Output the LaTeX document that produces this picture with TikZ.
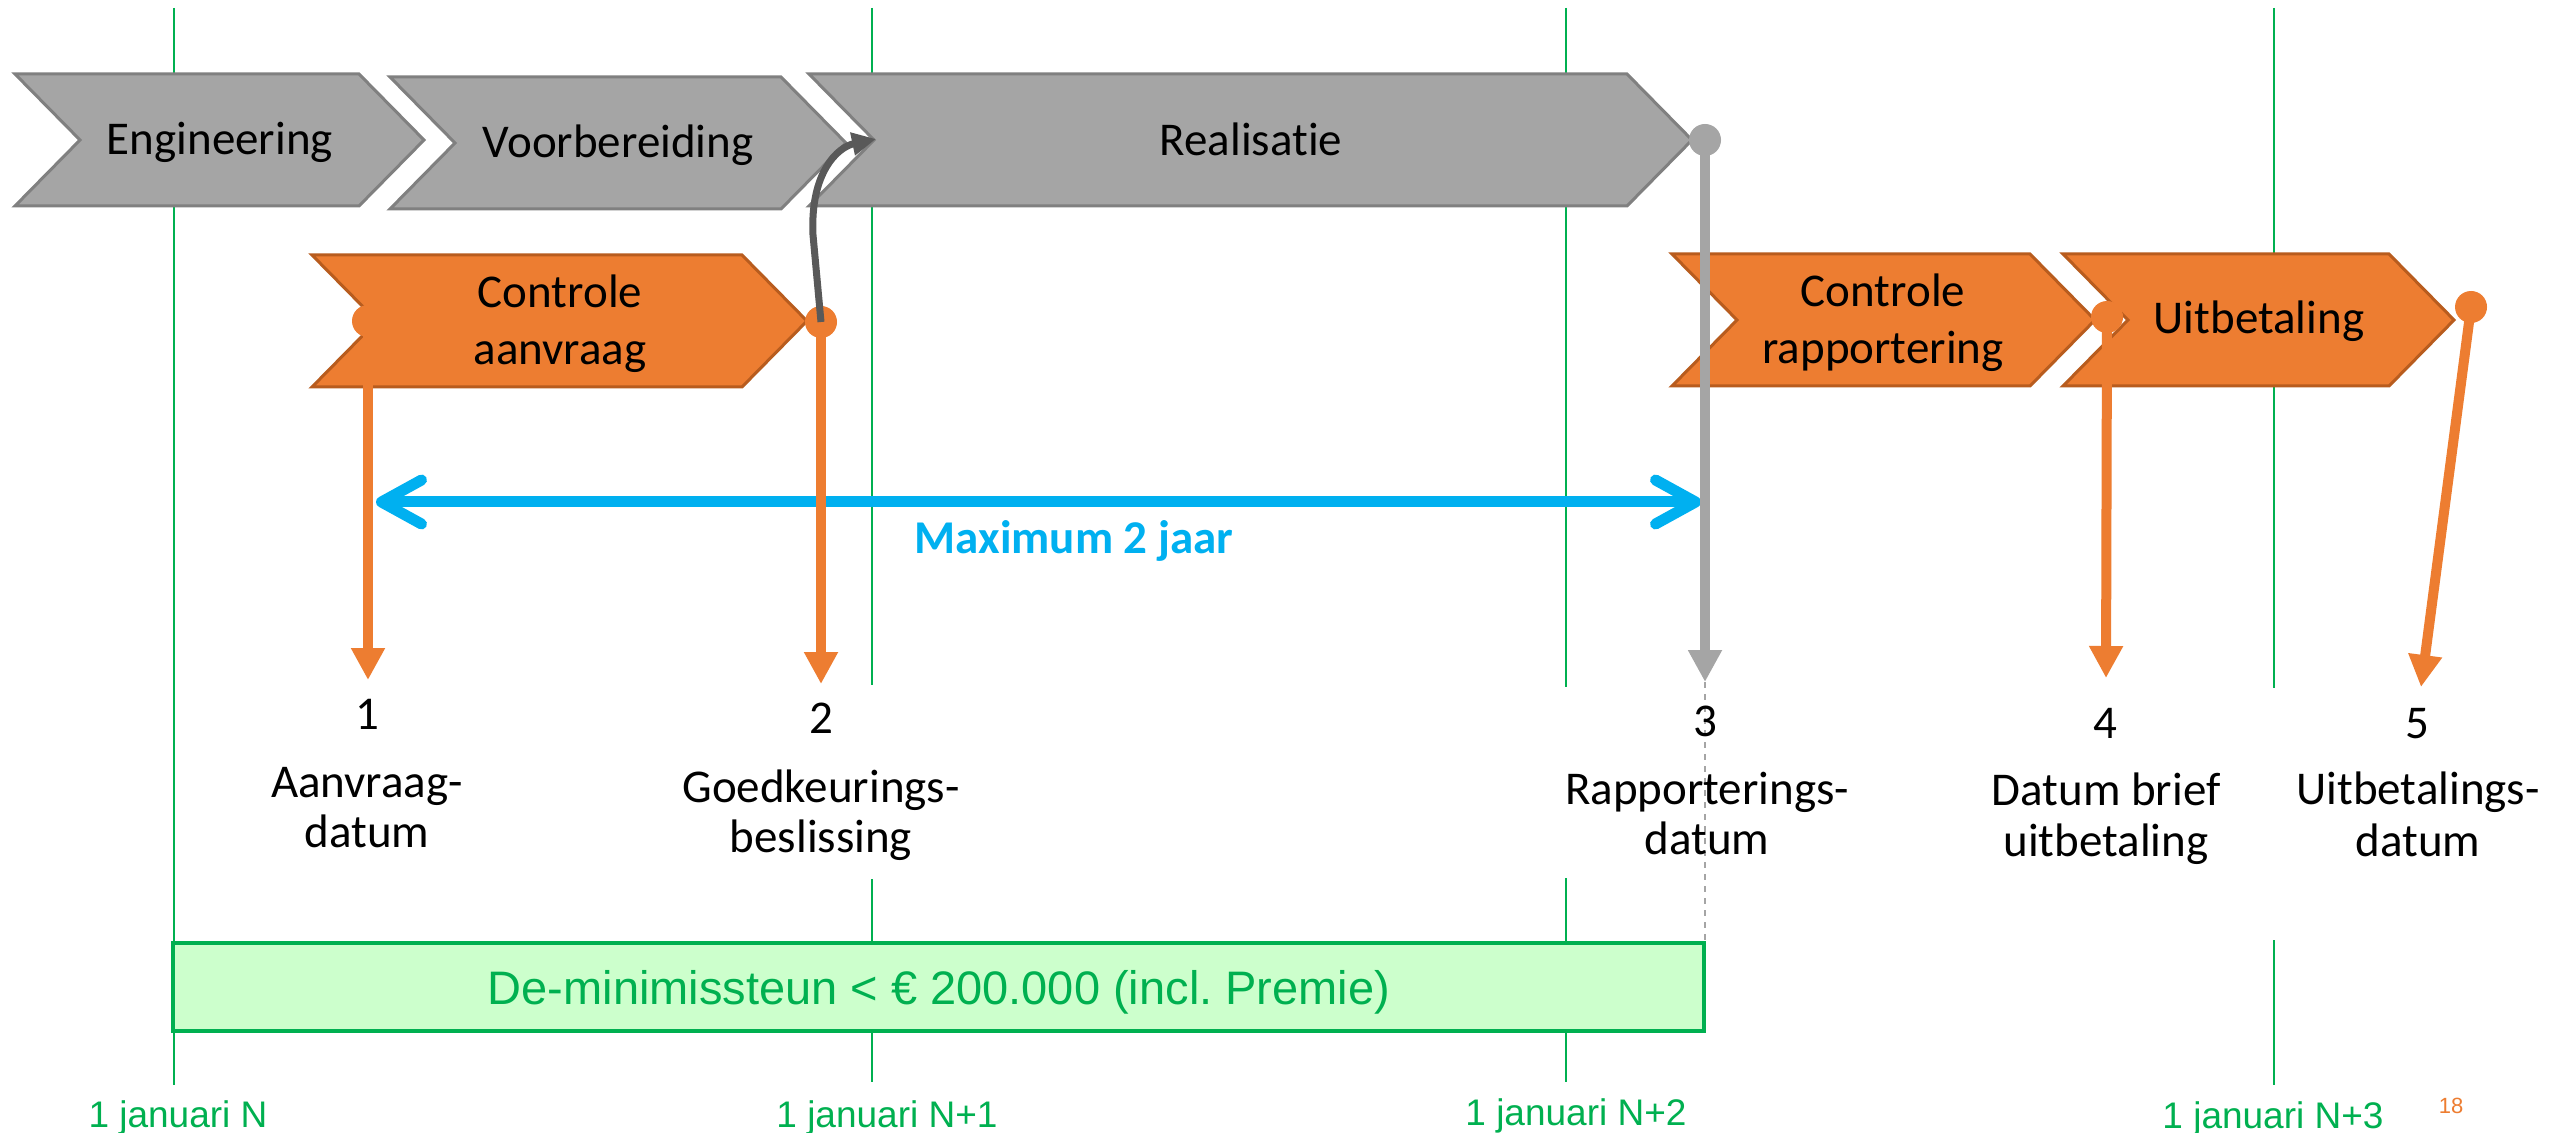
\documentclass[tikz,border=0pt]{standalone}
\usepackage{fontspec}
\setmainfont{Carlito}[Ligatures={NoCommon,NoRare,NoContextual}]
\newfontfamily\arialfont{Liberation Sans}
\usetikzlibrary{arrows.meta}
\definecolor{cOrange}{HTML}{ED7D31}
\definecolor{cOrangeDk}{HTML}{B85C1E}
\definecolor{cGray}{HTML}{A5A5A5}
\definecolor{cGrayDk}{HTML}{808080}
\definecolor{cDark}{HTML}{595959}
\definecolor{cBlue}{HTML}{00B0F0}
\definecolor{cGreen}{HTML}{00B050}
\definecolor{cBoxFill}{HTML}{CCFFCC}
\newcommand\drawchev[5]{\draw[#1] (#2,#4) -- (#3,#4) -- ({#3+65},{(#4+#5)/2}) -- (#3,#5) -- (#2,#5) -- ({#2+65},{(#4+#5)/2}) -- cycle;}
\frenchspacing
\begin{document}
\begin{tikzpicture}[x=0.5pt,y=-0.5pt,
  chevgray/.style={fill=cGray,draw=cGrayDk,line width=1.5pt},
  chevorange/.style={fill=cOrange,draw=cOrangeDk,line width=1.5pt},
  gridline/.style={draw=cGreen,line width=0.9pt},
  txt/.style={font=\fontsize{23.5pt}{28pt}\selectfont,anchor=base,inner sep=0pt},
  maxtxt/.style={txt,font=\fontsize{23.5pt}{28pt}\selectfont\bfseries,text=cBlue},
  datetxt/.style={font=\arialfont\fontsize{18.5pt}{22pt}\selectfont,anchor=base,inner sep=0pt,text=cGreen},
  boxtxt/.style={font=\arialfont\fontsize{23.5pt}{28pt}\selectfont,anchor=base,inner sep=0pt,text=cGreen},
  pagetxt/.style={font=\arialfont\fontsize{11pt}{13pt}\selectfont,anchor=base,inner sep=0pt,text=cOrange},
  odot/.style={circle,fill=cOrange,minimum size=16pt,inner sep=0pt},
  gdot/.style={circle,fill=cGray,minimum size=16pt,inner sep=0pt},
  oline/.style={draw=cOrange,line width=5pt,-{Triangle[length=16pt,width=16pt]}},
  gline/.style={draw=cGray,line width=5pt,-{Triangle[length=16pt,width=16pt]}},
  gdash/.style={draw=cGray,line width=0.6pt,dashed},
  darrow/.style={draw=cDark,line width=3.5pt,-{Triangle[length=12pt,width=11pt]}},
  bluearrow/.style={draw=cBlue,line width=5.5pt,line cap=round,
    {Straight Barb[length=20pt,width=22pt,round]}-{Straight Barb[length=20pt,width=22pt,round]}},
  greenbox/.style={draw=cGreen,fill=cBoxFill,line width=2pt,minimum width=765.5pt,minimum height=44pt,inner sep=0pt}
]
\useasboundingbox[fill=white] (0,0) rectangle (2552,1133);

% green year lines
\draw[gridline] (174,8) -- (174,1085);
\draw[gridline] (872,8) -- (872,685);
\draw[gridline] (872,879) -- (872,1082);
\draw[gridline] (1566,8) -- (1566,687);
\draw[gridline] (1566,878) -- (1566,1082);
\draw[gridline] (2274,8) -- (2274,688);
\draw[gridline] (2274,940) -- (2274,1085);

% gray phase chevrons
\drawchev{chevgray}{15}{359}{74}{206}
\drawchev{chevgray}{390}{781}{77}{209}
\drawchev{chevgray}{809}{1627}{74}{206}
\node[txt] (eng) at (220,155) {Engineering};
\node[txt] (voor) at (618,158) {Voorbereiding};
\node[txt] (real) at (1251,156) {Realisatie};

% orange chevrons
\drawchev{chevorange}{312}{742}{255}{387}
\drawchev{chevorange}{1672}{2030}{254}{386}
\drawchev{chevorange}{2063}{2389}{254}{386}
\node[txt] (ca1) at (560,308) {Controle};
\node[txt] (ca2) at (560,365) {aanvraag};
\node[txt] (cr1) at (1883,307) {Controle};
\node[txt] (cr2) at (1883,364) {rapportering};
\node[txt] (uit) at (2259,334) {Uitbetaling};

% green box
\node[greenbox] (box) at (938.5,987) {};
\node[boxtxt] (boxt) at (939,1004) {De-minimissteun < € 200.000 (incl. Premie)};

% blue double arrow
\coordinate (b1) at (376,502);
\coordinate (b2) at (1701,502);
\draw[bluearrow] (b1) -- (b2);
\node[maxtxt] (maxi) at (1074,553) {Maximum 2 jaar};

% dots
\node[odot] (c1) at (368,321) {};
\node[odot] (c2) at (821,322) {};
\node[gdot] (c3) at (1705,140) {};
\node[odot] (c4) at (2107,317) {};
\node[odot] (c5) at (2471,307) {};

% arrow ends
\coordinate (t1) at (368,680);
\coordinate (t2) at (821,684);
\coordinate (t3) at (1705,682);
\coordinate (t4) at (2106,678);
\coordinate (t5) at (2421,687);

\draw[oline] (c1.center) -- (t1);
\draw[oline] (c2.center) -- (t2);
\draw[gline] (c3.center) -- (t3);
\draw[gdash] (t3) -- (t3 |- box.north);
\draw[oline] (c4.center) -- (t4);
\draw[oline] (c5.center) -- (t5);

% dark curved arrow
\coordinate (dk) at (876,139);
\draw[darrow] (c2.center) -- (813,235) .. controls (810,172) and (838,147) .. (dk);

% milestone labels
\node[txt] (n1) at (367,729) {1};
\node[txt] (n2) at (821,733) {2};
\node[txt] (n3) at (1705,736) {3};
\node[txt] (n4) at (2105,738) {4};
\node[txt] (n5) at (2417,738) {5};
\node[txt] (l1a) at (367,797) {Aanvraag-};
\node[txt] (l1b) at (367,847) {datum};
\node[txt] (l2a) at (821,802) {Goedkeurings-};
\node[txt] (l2b) at (821,852) {beslissing};
\node[txt] (l3a) at (1707,804) {Rapporterings-};
\node[txt] (l3b) at (1707,854) {datum};
\node[txt] (l4a) at (2106,805) {Datum brief};
\node[txt] (l4b) at (2106,856) {uitbetaling};
\node[txt] (l5a) at (2418,804) {Uitbetalings-};
\node[txt] (l5b) at (2418,856) {datum};

% dates
\node[datetxt] (d0) at (178,1127) {1 januari N};
\node[datetxt] (d1) at (887,1127) {1 januari N+1};
\node[datetxt] (d2) at (1576,1125) {1 januari N+2};
\node[datetxt] (d3) at (2273,1128) {1 januari N+3};
\node[pagetxt] (pg) at (2451,1113) {18};
\end{tikzpicture}
\end{document}
